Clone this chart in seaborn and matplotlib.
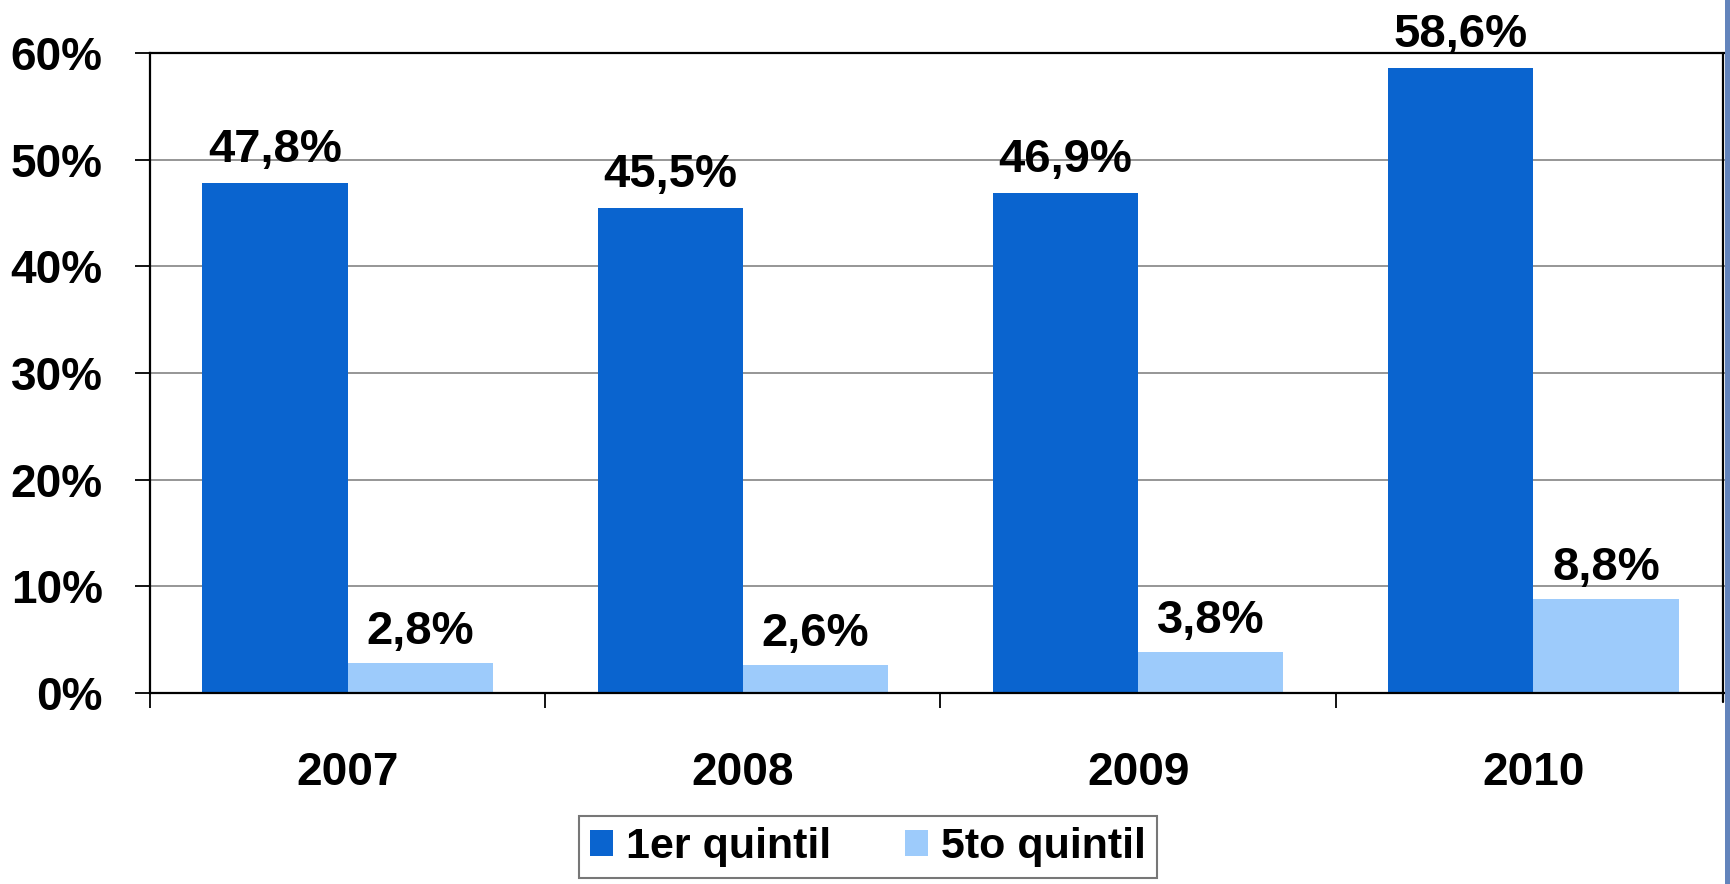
import matplotlib
matplotlib.use("Agg")
import matplotlib.pyplot as plt
import seaborn as sns
import pandas as pd
from matplotlib.patches import Patch, Rectangle
from matplotlib.lines import Line2D

# --- data ---
years = ["2007", "2008", "2009", "2010"]
series = ["1er quintil", "5to quintil"]
q1_values = [47.8, 45.5, 46.9, 58.6]
q5_values = [2.8, 2.6, 3.8, 8.8]
y_ticks = [0, 10, 20, 30, 40, 50, 60]

colors = ["#0A64CF", "#9DCBFB"]

df = pd.DataFrame({
    "year": years * 2,
    "serie": [series[0]] * 4 + [series[1]] * 4,
    "value": q1_values + q5_values,
})

sns.set_theme(style="white")
plt.rcParams["font.family"] = ["Liberation Sans", "DejaVu Sans"]
plt.rcParams["font.weight"] = "bold"
plt.rcParams["text.color"] = "black"
plt.rcParams["xtick.color"] = "black"
plt.rcParams["ytick.color"] = "black"
plt.rcParams["xtick.labelcolor"] = "black"
plt.rcParams["ytick.labelcolor"] = "black"

W, H = 1731, 884
fig = plt.figure(figsize=(W / 100, H / 100), dpi=100)
fig.patch.set_facecolor("white")
ax = fig.add_axes([150 / W, 191 / H, (W - 150) / W, 640 / H])

sns.barplot(data=df, x="year", y="value", hue="serie", order=years,
            hue_order=series, palette=colors, width=0.735, saturation=1,
            linewidth=0, ax=ax, legend=False)

ax.set_xlim(-0.5, 3.5)
ax.set_ylim(0, 60)
ax.set_xlabel("")
ax.set_ylabel("")

# grid
ax.set_axisbelow(True)
ax.yaxis.grid(True, color="#8e8e8e", lw=1.3)
ax.xaxis.grid(False)

# spines
for s in ["left", "bottom", "top"]:
    ax.spines[s].set_visible(True)
    ax.spines[s].set_color("black")
    ax.spines[s].set_linewidth(1.6)
ax.spines["right"].set_visible(False)

# y ticks
ax.set_yticks(y_ticks)
ax.set_yticklabels([f"{v}%" for v in y_ticks])
ax.tick_params(axis="y", which="major", direction="out", length=11, width=1.3,
               color="black", pad=23, labelsize=33, left=True)

# x ticks: labels at centres, marks at boundaries
ax.set_xticks(range(len(years)))
ax.set_xticklabels(years)
ax.set_xticks([-0.5, 0.5, 1.5, 2.5], minor=True)
ax.tick_params(axis="x", which="major", length=0, pad=42, labelsize=33)
ax.tick_params(axis="x", which="minor", direction="out", length=11, width=1.3,
               color="black", bottom=True)
for lab in ax.get_xticklabels() + ax.get_yticklabels():
    lab.set_fontweight("bold")
    lab.set_color("black")

# data labels
for container, vals, off in zip(ax.containers, [q1_values, q5_values], [15, 14]):
    for bar, v in zip(container, vals):
        ax.annotate(f"{v:.1f}%".replace(".", ","),
                    (bar.get_x() + bar.get_width() / 2, bar.get_height()),
                    xytext=(0, off), textcoords="offset points",
                    ha="center", va="baseline", fontsize=34,
                    fontweight="bold", color="black")

# right frame line and blue edge band
fig.add_artist(Line2D([1723 / W, 1723 / W], [182 / H, 831 / H],
                      transform=fig.transFigure, color="black", lw=1.6))
fig.add_artist(Rectangle((1725 / W, 0), 6 / W, 1, transform=fig.transFigure,
                         facecolor="#6384BC", edgecolor="none"))

# legend
handles = [Patch(facecolor=c, edgecolor="none") for c in colors]
leg = fig.legend(handles, series, loc="center",
                 bbox_to_anchor=(868 / W, 1 - 847 / H), ncol=2,
                 frameon=True, fancybox=False, edgecolor="#555555",
                 prop={"size": 31, "weight": "bold"},
                 handlelength=0.55, handleheight=0.55, handletextpad=0.3,
                 columnspacing=1.7, borderpad=0.25, borderaxespad=0)
leg.get_frame().set_linewidth(1.5)
for t in leg.get_texts():
    t.set_color("black")

fig.savefig("out.png", dpi=100, facecolor="white")
